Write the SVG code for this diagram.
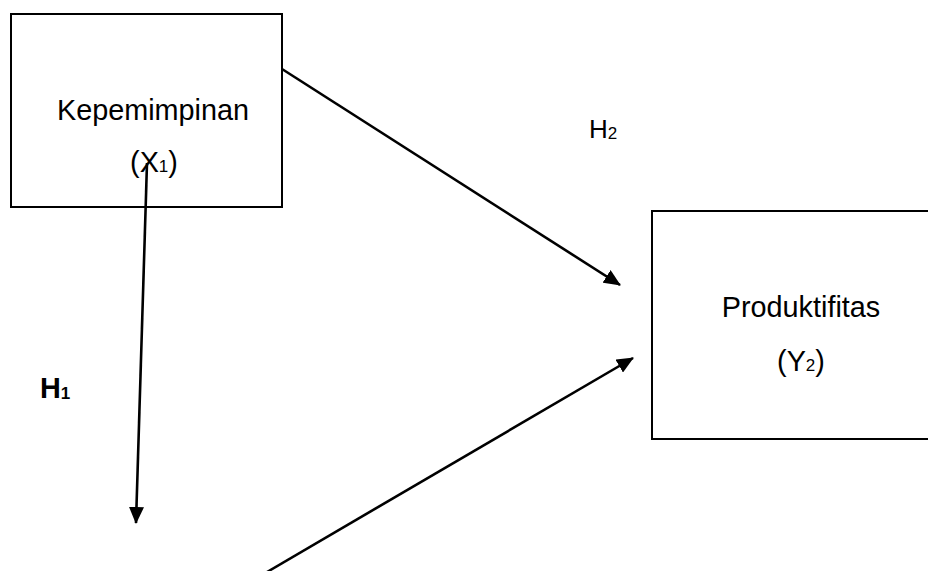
<svg xmlns="http://www.w3.org/2000/svg" width="928" height="571" viewBox="0 0 928 571">
  <style>
    .box { fill: #ffffff; stroke: #000000; stroke-width: 2; }
    .lbl { font-family: "Liberation Sans", Arial, sans-serif; font-size: 28.8px; fill: #000000; }
    .sub { font-size: 17px; }
    .conn { stroke: #000000; stroke-width: 2.6; fill: none; marker-end: url(#arrow); }
  </style>
  <defs>
    <marker id="arrow" markerUnits="userSpaceOnUse" markerWidth="17" markerHeight="15" viewBox="0 0 17 15" refX="16" refY="7.5" orient="auto">
      <path d="M0,0 L17,7.5 L0,15 Z" fill="#000000"/>
    </marker>
  </defs>
  <rect width="928" height="571" fill="#ffffff"/>

  <g id="node-x1">
    <rect class="box" x="11" y="14" width="271" height="193"/>
    <text class="lbl" x="153" y="120" text-anchor="middle">Kepemimpinan</text>
    <text class="lbl" x="154" y="171.5" text-anchor="middle">(X<tspan class="sub">1</tspan>)</text>
  </g>

  <g id="node-y2">
    <rect class="box" x="652" y="211" width="290" height="228"/>
    <text class="lbl" x="801" y="317" text-anchor="middle">Produktifitas</text>
    <text class="lbl" x="801" y="370.5" text-anchor="middle">(Y<tspan class="sub">2</tspan>)</text>
  </g>

  <g id="connectors">
    <line class="conn" x1="147" y1="163" x2="136" y2="523"/>
    <line class="conn" x1="282" y1="69" x2="620" y2="285"/>
    <line class="conn" x1="267" y1="572" x2="633" y2="358"/>
  </g>

  <g id="labels">
    <text class="lbl" x="589" y="138" style="font-size:26px">H<tspan class="sub" dy="1">2</tspan></text>
    <text class="lbl" x="40" y="398" font-weight="bold">H<tspan class="sub" dy="1">1</tspan></text>
  </g>
</svg>
